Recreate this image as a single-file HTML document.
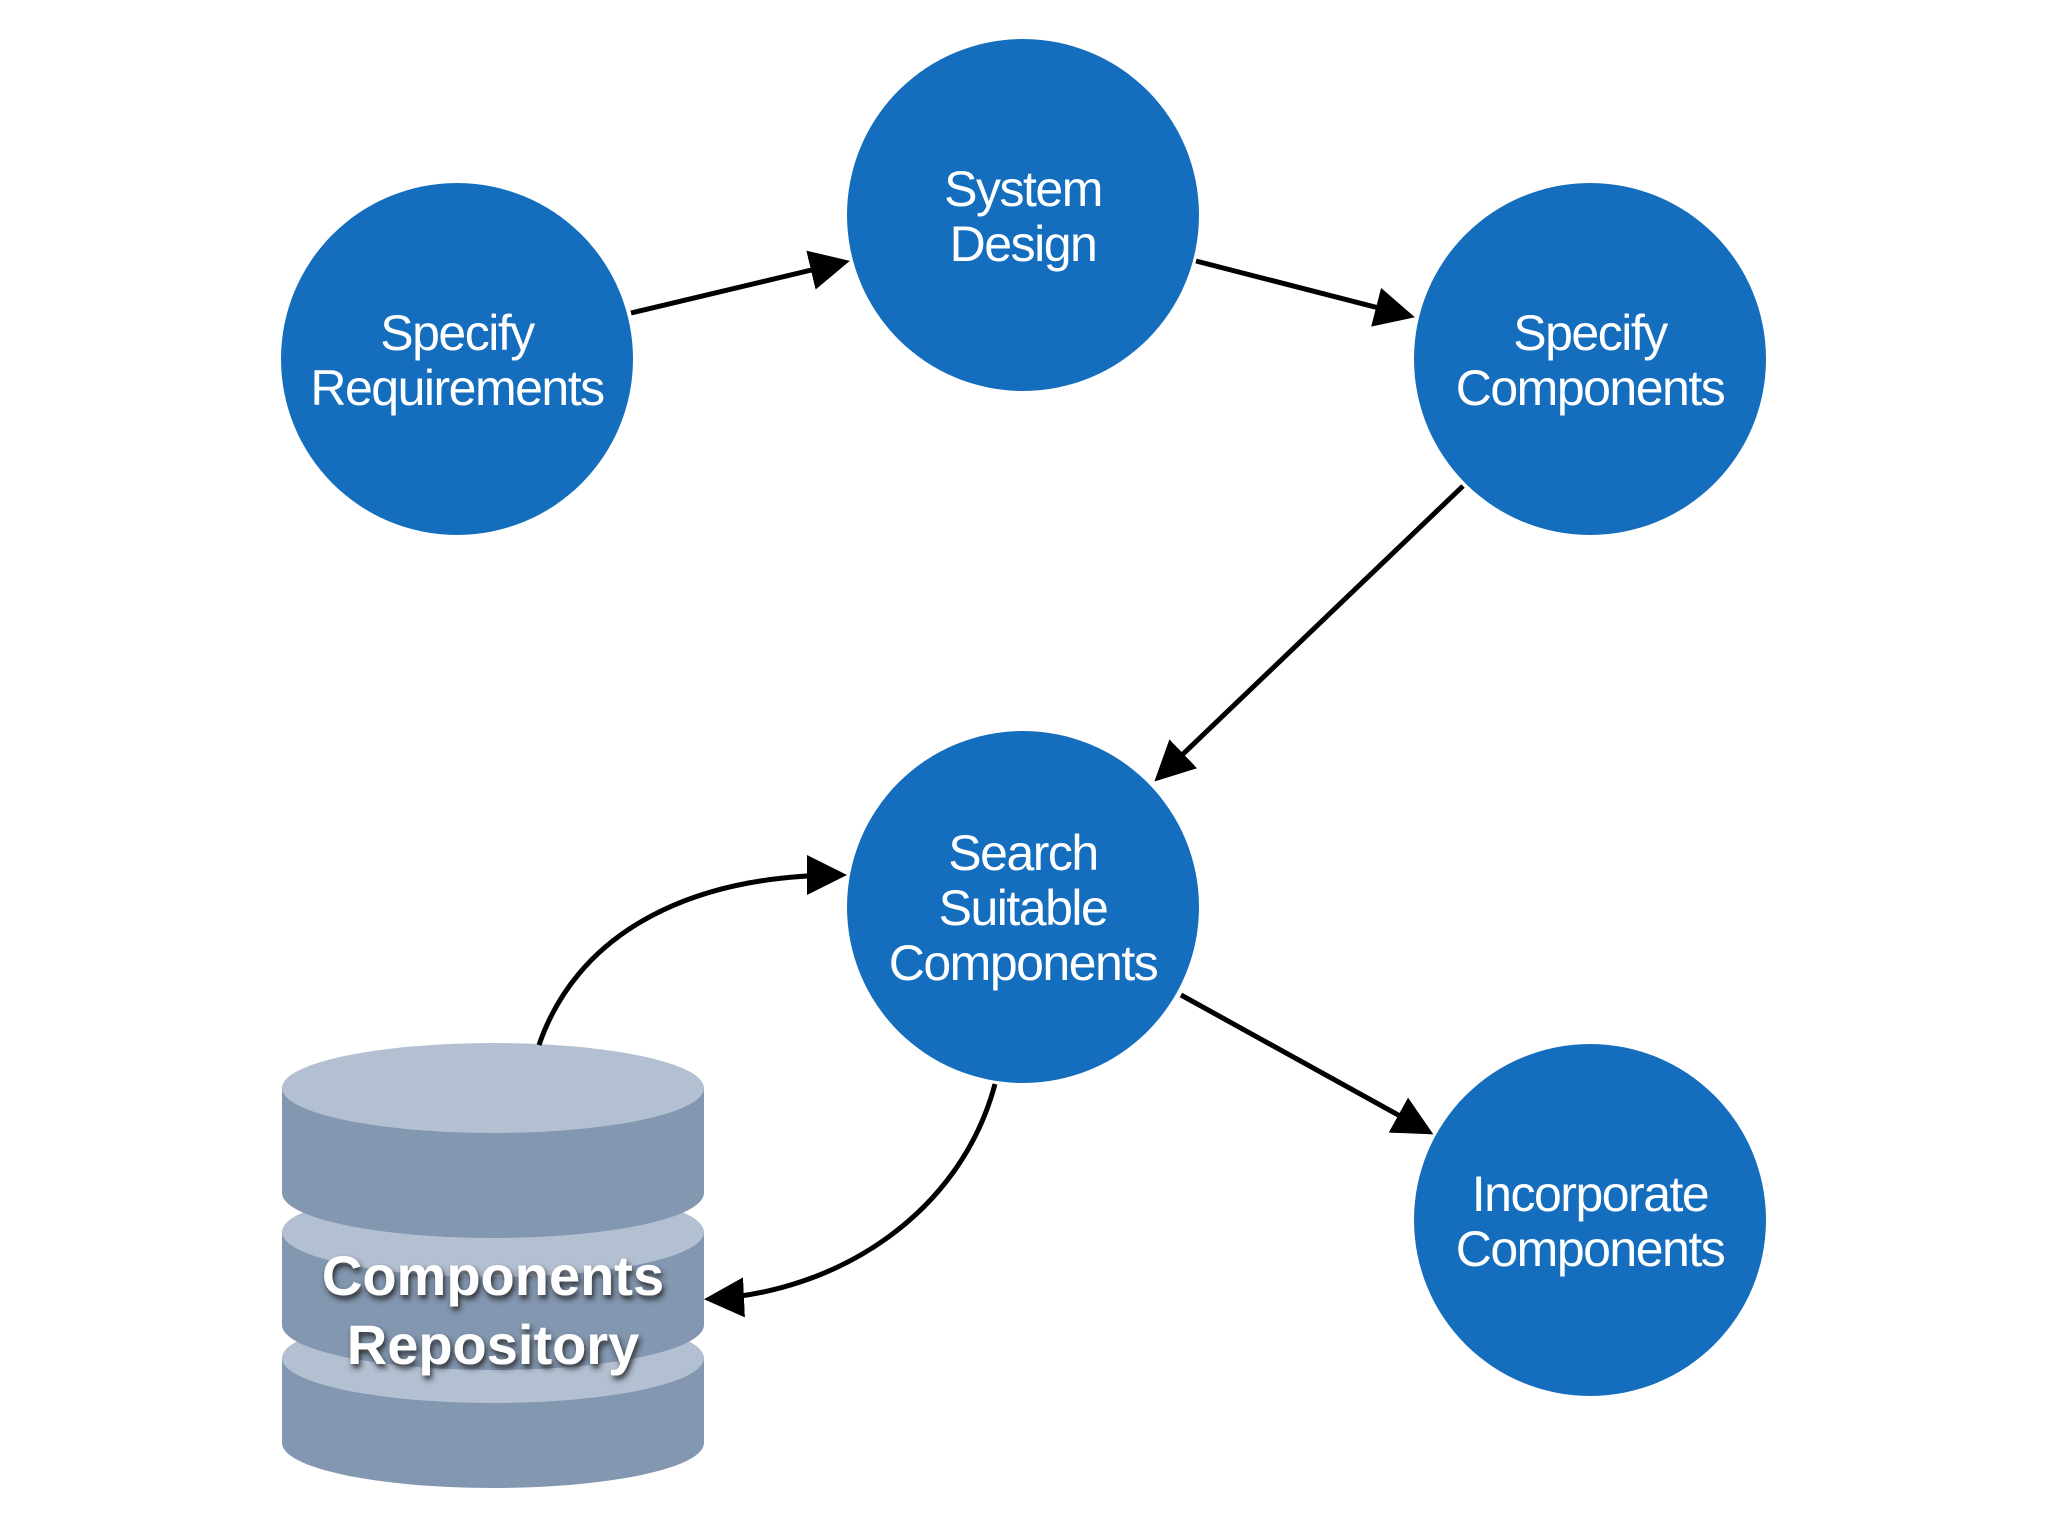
<!DOCTYPE html>
<html><head><style>
html,body{margin:0;padding:0;background:#fff;}
svg{display:block;}
.t{font-family:"Liberation Sans",Arial,sans-serif;font-size:50px;fill:#fff;text-anchor:middle;letter-spacing:-1.5px;}
.d{font-family:"Liberation Sans",Arial,sans-serif;font-size:56px;font-weight:bold;fill:#fff;text-anchor:middle;}
</style></head><body>
<svg width="2048" height="1536" viewBox="0 0 2048 1536" xmlns="http://www.w3.org/2000/svg">
<defs>
<marker id="a" markerWidth="8" markerHeight="8" refX="7" refY="4" orient="auto" markerUnits="strokeWidth">
<path d="M0,0 L8,4 L0,8 Z" fill="#000"/>
</marker>
<filter id="sh" x="-20%" y="-40%" width="140%" height="180%">
<feDropShadow dx="2" dy="4" stdDeviation="3" flood-color="#222" flood-opacity="0.9"/>
</filter>
</defs>
<g fill="#156ebd">
<circle cx="457" cy="359" r="176"/>
<circle cx="1023" cy="215" r="176"/>
<circle cx="1590" cy="359" r="176"/>
<circle cx="1023" cy="907" r="176"/>
<circle cx="1590" cy="1220" r="176"/>
</g>
<g class="t">
<text x="457" y="350">Specify</text><text x="457" y="405">Requirements</text>
<text x="1023" y="206">System</text><text x="1023" y="261">Design</text>
<text x="1590" y="350">Specify</text><text x="1590" y="405">Components</text>
<text x="1023" y="870">Search</text><text x="1023" y="925">Suitable</text><text x="1023" y="980">Components</text>
<text x="1590" y="1211">Incorporate</text><text x="1590" y="1266">Components</text>
</g>
<g>
<path d="M282,1358 L282,1443 A211,45 0 0 0 704,1443 L704,1358 Z" fill="#8397b1"/>
<ellipse cx="493" cy="1358" rx="211" ry="45" fill="#b3c0d2"/>
<path d="M282,1232 L282,1325 A211,45 0 0 0 704,1325 L704,1232 Z" fill="#8397b1"/>
<ellipse cx="493" cy="1232" rx="211" ry="45" fill="#b3c0d2"/>
<path d="M282,1088 L282,1193 A211,45 0 0 0 704,1193 L704,1088 Z" fill="#8397b1"/>
<ellipse cx="493" cy="1088" rx="211" ry="45" fill="#b3c0d2"/>
</g>
<g class="d" filter="url(#sh)">
<text x="493" y="1295">Components</text>
<text x="493" y="1364">Repository</text>
</g>
<g stroke="#000" stroke-width="5" fill="none" marker-end="url(#a)">
<line x1="631" y1="313" x2="845" y2="262"/>
<line x1="1196" y1="261" x2="1410" y2="316"/>
<line x1="1463" y1="486" x2="1158" y2="778"/>
<line x1="1181" y1="995" x2="1429" y2="1132"/>
<path d="M539,1045 C575,940 679,875 842,875"/>
<path d="M995,1084 C960,1215 836,1293 709,1299"/>
</g>
</svg>
</body></html>
